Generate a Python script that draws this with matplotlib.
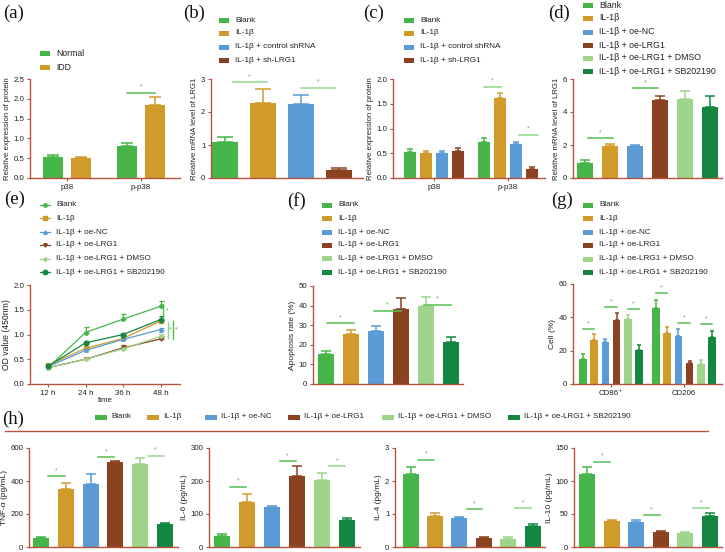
import numpy as np
import matplotlib.pyplot as plt
from matplotlib.patches import Rectangle

plt.rcParams['font.family'] = ['Liberation Sans', 'DejaVu Sans']

W, H = 725, 552
AXC = '#B5533C'
TXT = '#222222'
C_BLANK = '#47B649'
C_IL = '#D19B2C'
C_NC = '#5B9BD5'
C_LRG1 = '#8B4220'
C_DMSO = '#9ED58B'
C_SB = '#138740'
C_SIG = '#55BE52'
C_SIG2 = '#8ED888'
TICK_FS = 5.7
LEG_FS = 5.9

# ---- data ----
a_groups = ['p38', 'p-p38']
a_labels = ['Normal', 'IDD']
a_vals = [[0.52, 0.81], [0.50, 1.84]]
a_errs = [[0.06, 0.08], [0.04, 0.21]]

b_labels = ['Blank', 'IL-1β', 'IL-1β + control shRNA', 'IL-1β + sh-LRG1']
b_vals = [1.10, 2.28, 2.25, 0.25]
b_errs = [0.15, 0.42, 0.28, 0.05]

c_groups = ['p38', 'p-p38']
c_vals = [[0.52, 0.72], [0.50, 1.62], [0.51, 0.69], [0.55, 0.19]]
c_errs = [[0.07, 0.08], [0.05, 0.10], [0.04, 0.04], [0.06, 0.03]]

six_labels = ['Blank', 'IL-1β', 'IL-1β + oe-NC', 'IL-1β + oe-LRG1',
              'IL-1β + oe-LRG1 + DMSO', 'IL-1β + oe-LRG1 + SB202190']
d_vals = [0.90, 1.95, 1.95, 4.70, 4.80, 4.30]
d_errs = [0.20, 0.12, 0.08, 0.25, 0.45, 0.70]

e_times = ['12 h', '24 h', '36 h', '48 h']
e_vals = [[0.33, 1.04, 1.31, 1.57],
          [0.38, 0.72, 0.92, 1.27],
          [0.35, 0.68, 0.90, 1.10],
          [0.33, 0.50, 0.73, 0.91],
          [0.33, 0.50, 0.71, 0.96],
          [0.36, 0.83, 1.00, 1.30]]
e_errs = [[0.03, 0.12, 0.10, 0.10],
          [0.02, 0.04, 0.04, 0.04],
          [0.02, 0.03, 0.03, 0.03],
          [0.02, 0.03, 0.05, 0.04],
          [0.02, 0.02, 0.03, 0.05],
          [0.02, 0.04, 0.04, 0.07]]

f_vals = [15.5, 25.5, 27.0, 38.5, 40.0, 21.5]
f_errs = [1.5, 2.0, 2.5, 5.5, 4.5, 2.5]

g_groups = ['CD86⁺', 'CD206']
g_vals = [[15.0, 45.5], [26.5, 30.5], [25.0, 29.0], [38.5, 12.5], [39.0, 12.0], [20.5, 28.5]]
g_errs = [[3.0, 5.0], [3.5, 3.5], [2.0, 4.0], [4.0, 1.5], [2.5, 2.5], [3.0, 3.5]]

h_names = ['TNF-α (pg/mL)', 'IL-6 (pg/mL)', 'IL-4 (pg/mL)', 'IL-10 (pg/mL)']
h_vals = [[52, 350, 380, 515, 505, 140],
          [33, 137, 120, 215, 203, 82],
          [2.2, 0.95, 0.88, 0.27, 0.25, 0.65],
          [111, 40, 38, 22, 21, 47]]
h_errs = [[10, 38, 60, 8, 35, 8],
          [7, 25, 3, 30, 20, 6],
          [0.22, 0.08, 0.04, 0.04, 0.04, 0.06],
          [10, 1, 3, 3, 1, 4]]
h_sig = [[(0, 1, 430), (2, 3, 545), (4, 5, 552)],
         [(0, 1, 182), (2, 3, 260), (4, 5, 245)],
         [(0, 1, 2.64), (2, 3, 1.15), (4, 5, 1.18)],
         [(0, 1, 129), (2, 3, 48.5), (4, 5, 59)]]
h_ymax = [600, 300, 3, 150]

colors6 = [C_BLANK, C_IL, C_NC, C_LRG1, C_DMSO, C_SB]

fig = plt.figure(figsize=(7.25, 5.52), dpi=100)


def make_ax(x0, ytop, x1, ybot, ymax, yticks, xlim):
    ax = fig.add_axes([x0 / W, 1 - ybot / H, (x1 - x0) / W, (ybot - ytop) / H])
    for s in ['top', 'right']:
        ax.spines[s].set_visible(False)
    for s in ['left', 'bottom']:
        ax.spines[s].set_color(AXC)
        ax.spines[s].set_linewidth(1.0)
    ax.set_ylim(0, ymax)
    ax.set_xlim(*xlim)
    ax.set_yticks(yticks)
    ax.tick_params(axis='both', colors=AXC, labelcolor=TXT, labelsize=TICK_FS,
                   length=2.5, width=0.8, pad=1.5)
    ax.set_xticks([])
    return ax


def bars(ax, pos, vals, errs, cols, width):
    ax.bar(pos, vals, width, color=cols, zorder=2)
    bw_px = ax.transData.transform((width, 0))[0] - ax.transData.transform((0, 0))[0]
    cs = bw_px * 0.3 * 0.72
    for p, v, e, c in zip(pos, vals, errs, cols):
        ax.errorbar(p, v, yerr=[[0], [e]], color=c, capsize=cs,
                    elinewidth=1.1, capthick=1.1, zorder=1)


def sig(ax, x0, x1, y, color=C_SIG):
    ax.plot([x0, x1], [y, y], color=color, lw=1.1, clip_on=False)
    ax.annotate('*', xy=((x0 + x1) / 2, y), xytext=(0, 1.5), textcoords='offset points',
                ha='center', va='bottom', fontsize=5, color=C_SIG)


def xl(x0, x1, c0, sp):
    return ((x0 - c0) / sp, (x1 - c0) / sp)


def ylab(ax, text, fs=5.6):
    ax.set_ylabel(text, fontsize=fs, color=TXT, labelpad=2)


# (a)
ax = make_ax(30, 79, 180, 178, 2.5, np.arange(0, 2.51, 0.5), xl(30, 180, 67, 74))
ax.set_yticklabels(['0.0', '0.5', '1.0', '1.5', '2.0', '2.5'])
for k, col in enumerate([C_BLANK, C_IL]):
    bars(ax, np.arange(2) + (k - 0.5) * 0.38, a_vals[k], a_errs[k], [col] * 2, 0.26)
ax.set_xticks([0, 1])
ax.set_xticklabels(a_groups)
ylab(ax, 'Relative expression of protein')
sig(ax, 0.81, 1.19, 2.15)

# (b)
ax = make_ax(211, 79, 363, 178, 3, [0, 1, 2, 3], xl(211, 363, 225, 38))
bars(ax, np.arange(4), b_vals, b_errs, colors6[:4], 0.66)
ylab(ax, 'Relative mRNA level of LRG1')
sig(ax, 0.2, 1.1, 2.9, C_SIG2)
sig(ax, 2.0, 2.9, 2.73, C_SIG2)

# (c)
ax = make_ax(393, 79, 545, 178, 2.0, np.arange(0, 2.01, 0.5), xl(393, 545, 434, 74))
ax.set_yticklabels(['0.0', '0.5', '1.0', '1.5', '2.0'])
for k in range(4):
    bars(ax, np.arange(2) + (k - 1.5) * 0.216, c_vals[k], c_errs[k], [colors6[k]] * 2, 0.15)
ax.set_xticks([0, 1])
ax.set_xticklabels(c_groups)
ylab(ax, 'Relative expression of protein')
sig(ax, 1 - 0.324, 1 - 0.1, 1.84, C_SIG2)
sig(ax, 1 + 0.15, 1 + 0.4, 0.87, C_SIG2)

# (d)
ax = make_ax(573, 79, 722, 178, 6, [0, 2, 4, 6], xl(573, 722, 585, 25))
bars(ax, np.arange(6), d_vals, d_errs, colors6, 0.64)
ylab(ax, 'Relative mRNA level of LRG1')
sig(ax, 0.1, 1.1, 2.42)
sig(ax, 1.9, 2.9, 5.45)

# (e)
ax = make_ax(30, 285, 180, 384, 2.0, np.arange(0, 2.01, 0.5), (-0.48, 3.52))
ax.set_yticklabels(['0.0', '0.5', '1.0', '1.5', '2.0'])
markers = ['o', 's', '^', 'v', 'P', 'o']
msizes = [2.5, 2.5, 2.5, 2.5, 2.5, 3.2]
x = np.arange(4)
for k in range(6):
    ax.errorbar(x, e_vals[k], yerr=[[0] * 4, e_errs[k]], color=colors6[k], marker=markers[k],
                ms=msizes[k], lw=0.9, elinewidth=0.9, capsize=1.8, capthick=0.9)
ax.set_xticks(x)
ax.set_xticklabels(e_times)
ax.set_xlabel('time', fontsize=5.6, color=TXT, labelpad=0.5)
ylab(ax, 'OD value (450nm)', 6.2)
for xv, y0, y1, xs, col in [(3.07, 1.35, 1.62, 3.18, C_SIG),
                            (3.21, 0.93, 1.25, 3.27, C_SIG2),
                            (3.33, 0.90, 1.27, 3.41, C_SIG)]:
    ax.plot([xv, xv], [y0, y1], color=col, lw=1.0, clip_on=False)
    ax.text(xs, (y0 + y1) / 2, '*', fontsize=5, color=C_SIG, ha='center', va='center')

# (f)
ax = make_ax(313, 286, 463, 384, 50, [0, 10, 20, 30, 40, 50], xl(313, 463, 326, 25))
bars(ax, np.arange(6), f_vals, f_errs, colors6, 0.64)
ylab(ax, 'Apoptosis rate (%)', 6.0)
sig(ax, 0.05, 1.1, 31)
sig(ax, 1.9, 3.0, 37.5)
sig(ax, 3.9, 5.0, 40.5)

# (g)
ax = make_ax(573, 284, 722, 384, 60, [0, 20, 40, 60], xl(573, 722, 611, 73))
for k in range(6):
    bars(ax, np.arange(2) + (k - 2.5) * 0.153, g_vals[k], g_errs[k], [colors6[k]] * 2, 0.105)
ax.set_xticks([0, 1])
ax.set_xticklabels(g_groups)
ylab(ax, 'Cell (%)', 6.0)
gsig = [(0, 1), (2, 3), (4, 5)]
for gi, ys in enumerate([[33, 46, 45], [54.6, 36.6, 36]]):
    for j, (i0, i1) in enumerate(gsig):
        sig(ax, gi + (i0 - 2.5) * 0.153, gi + (i1 - 2.5) * 0.153, ys[j])

# (h)
h_boxes = [(29, 178, 41, 24.8), (209, 360, 222.5, 24.8), (395, 545, 410.5, 24.4), (574, 722, 587, 24.6)]
for n in range(4):
    x0, x1, c0, sp = h_boxes[n]
    ym = h_ymax[n]
    ax = make_ax(x0, 448, x1, 547, ym, np.linspace(0, ym, 4), xl(x0, x1, c0, sp))
    ax.set_yticklabels([('%g' % v) for v in np.linspace(0, ym, 4)])
    bars(ax, np.arange(6), h_vals[n], h_errs[n], colors6, 16 / sp)
    ylab(ax, h_names[n], 6.0)
    for i0, i1, yv in h_sig[n]:
        sig(ax, i0 + 0.3, i1 - 0.05, yv, C_SIG if i0 != 4 else C_SIG2)

# overlay: panel letters and legends
ov = fig.add_axes([0, 0, 1, 1])
ov.set_xlim(0, W)
ov.set_ylim(H, 0)
ov.axis('off')

for lab, px, py in [('(a)', 3, 13), ('(b)', 183, 13), ('(c)', 363, 13), ('(d)', 548, 13),
                    ('(e)', 4, 199), ('(f)', 287, 201), ('(g)', 551, 200), ('(h)', 2, 419)]:
    ov.text(px, py, lab, fontsize=13.5, family='Liberation Serif', va='center', ha='left', color='#111')


def patch_legend(xp, ys, labels, cols, w=10, h=5, fs=LEG_FS):
    for yy, lab, c in zip(ys, labels, cols):
        ov.add_patch(Rectangle((xp, yy - h / 2), w, h, color=c, lw=0))
        ov.text(xp + w + 6, yy, lab, va='center', ha='left', fontsize=fs, color=TXT)


patch_legend(40, [53, 67], a_labels, [C_BLANK, C_IL], fs=6.2)
patch_legend(219, [20, 33, 47, 60], b_labels, colors6[:4])
patch_legend(404, [20, 33, 47, 60], b_labels, colors6[:4])
patch_legend(583, [5, 18, 32, 45, 58, 71], six_labels, colors6, fs=6.3)
patch_legend(322, [205, 218, 232, 245, 258, 272], six_labels, colors6)
patch_legend(583, [205, 218, 232, 245, 259, 272], six_labels, colors6)

for k, yy in enumerate([205, 218, 232, 245, 259, 272]):
    ov.plot([40, 50], [yy, yy], color=colors6[k], lw=0.9)
    ov.plot([45], [yy], marker=markers[k], ms=msizes[k], color=colors6[k])
    ov.text(56, yy, six_labels[k], va='center', ha='left', fontsize=LEG_FS, color=TXT)

# h legend row
for xp, lab, c in zip([95, 147, 205, 288, 382, 508], six_labels, colors6):
    ov.add_patch(Rectangle((xp, 417 - 2.5), 12, 5, color=c, lw=0))
    ov.text(xp + 16, 417, lab, va='center', ha='left', fontsize=5.8, color=TXT)
ov.plot([5, 708], [431, 431], color=AXC, lw=1.0)

fig.savefig('out.png', dpi=100)
